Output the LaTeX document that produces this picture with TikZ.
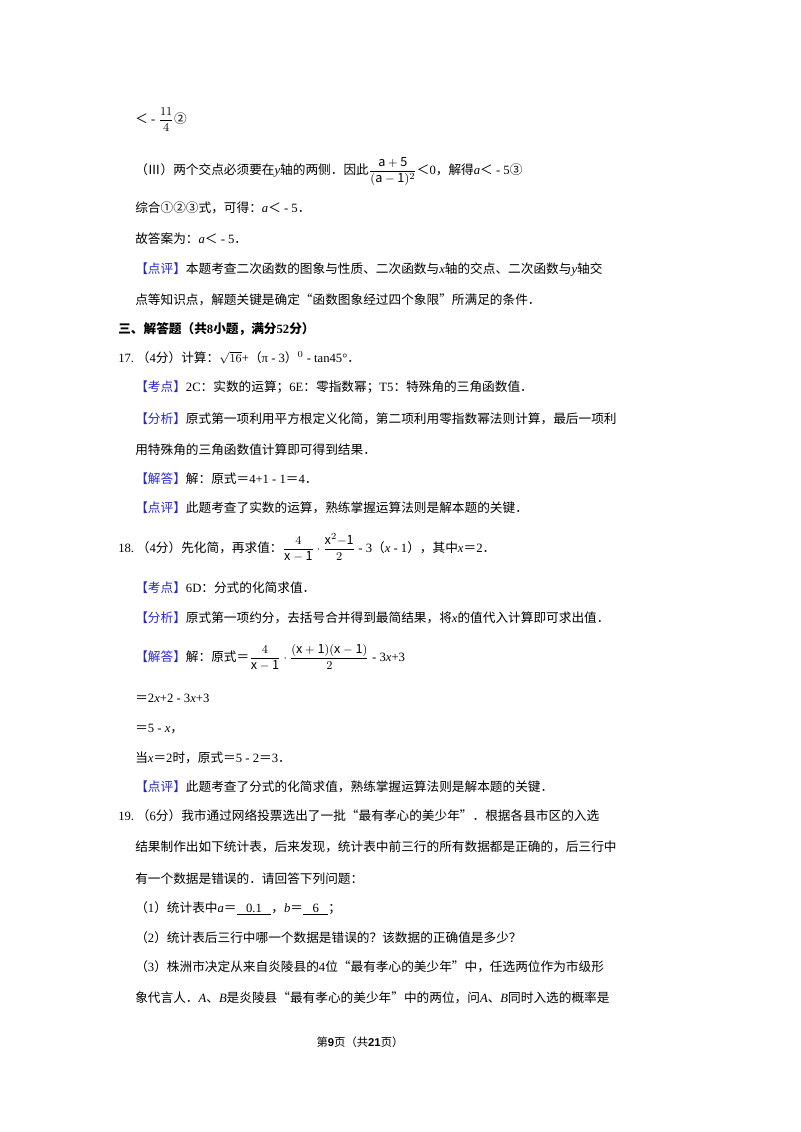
\documentclass[tikz,border=0pt]{standalone}
\usepackage{fontspec}
\setmainfont{Noto Sans CJK SC}
\newfontfamily\lat{Liberation Serif}
\newfontfamily\lsans{Liberation Sans}
\definecolor{kb}{RGB}{40,40,210}
\newcommand\lt[1]{{\lat #1}}
\newcommand\ix[1]{{\lat\itshape #1}}
\newcommand\tag[1]{{\color{kb}【#1】}}
\begin{document}
\begin{tikzpicture}[x=0.75pt,y=-0.75pt,
  every node/.style={inner sep=0pt,anchor=base west,font=\fontsize{9.5pt}{12pt}\selectfont},
  hd/.style={font=\fontsize{9.5pt}{12pt}\selectfont\bfseries}]
\useasboundingbox[fill=white] (0,0) rectangle (800,1132);
\def\b{4.5}
\node (l1) at (135,119+\b) {＜\lt{ - }$\displaystyle\frac{11}{4}$②};
\node (l2) at (135,170+\b) {（Ⅲ）两个交点必须要在\ix{y}轴的两侧．因此$\displaystyle\frac{\mathrm{a+5}}{(\mathrm{a-1})^2}$＜\lt{0}，解得\ix{a}＜\lt{ - 5}③};
\node (l3) at (135,208+\b) {综合①②③式，可得：\ix{a}＜\lt{ - 5}．};
\node (l4) at (135,239+\b) {故答案为：\ix{a}＜\lt{ - 5}．};
\node (l5) at (135,269+\b) {\tag{点评}本题考查二次函数的图象与性质、二次函数与\ix{x}轴的交点、二次函数与\ix{y}轴交};
\node (l6) at (135,300+\b) {点等知识点，解题关键是确定“函数图象经过四个象限”所满足的条件．};
\node[hd] (l7) at (118,329+\b) {三、解答题（共\lt{\bfseries 8}小题，满分\lt{\bfseries 52}分）};
\node (l8) at (118,358+\b) {\lt{17.}\ （\lt{4}分）计算：$\sqrt{16}$\lt{+}（\lt{π - 3}）$^{0}$\lt{ - tan45°}．};
\node (l9) at (135,387+\b) {\tag{考点}\lt{2C}：实数的运算；\lt{6E}：零指数幂；\lt{T5}：特殊角的三角函数值．};
\node (l10) at (135,419+\b) {\tag{分析}原式第一项利用平方根定义化简，第二项利用零指数幂法则计算，最后一项利};
\node (l11) at (135,450+\b) {用特殊角的三角函数值计算即可得到结果．};
\node (l12) at (135,479+\b) {\tag{解答}解：原式＝\lt{4+1 - 1}＝\lt{4}．};
\node (l13) at (135,508+\b) {\tag{点评}此题考查了实数的运算，熟练掌握运算法则是解本题的关键．};
\node (l14) at (118,548+\b) {\lt{18.}\ （\lt{4}分）先化简，再求值：$\displaystyle\frac{4}{\mathrm{x-1}}\cdot\frac{\mathrm{x}^2\mathrm{-1}}{2}$\lt{ - 3}（\ix{x}\lt{ - 1}），其中\ix{x}＝\lt{2}．};
\node (l15) at (135,588+\b) {\tag{考点}\lt{6D}：分式的化简求值．};
\node (l16) at (135,618+\b) {\tag{分析}原式第一项约分，去括号合并得到最简结果，将\ix{x}的值代入计算即可求出值．};
\node (l17) at (135,657+\b) {\tag{解答}解：原式＝$\displaystyle\frac{4}{\mathrm{x-1}}\cdot\frac{(\mathrm{x+1})(\mathrm{x-1})}{2}$\lt{ - 3}\ix{x}\lt{+3}};
\node (l18) at (135,698+\b) {＝\lt{2}\ix{x}\lt{+2 - 3}\ix{x}\lt{+3}};
\node (l19) at (135,728+\b) {＝\lt{5 - }\ix{x}，};
\node (l20) at (135,758+\b) {当\ix{x}＝\lt{2}时，原式＝\lt{5 - 2}＝\lt{3}．};
\node (l21) at (135,787+\b) {\tag{点评}此题考查了分式的化简求值，熟练掌握运算法则是解本题的关键．};
\node (l22) at (118,816+\b) {\lt{19.}\ （\lt{6}分）我市通过网络投票选出了一批“最有孝心的美少年”．根据各县市区的入选};
\node (l23) at (135,847+\b) {结果制作出如下统计表，后来发现，统计表中前三行的所有数据都是正确的，后三行中};
\node (l24) at (135,879+\b) {有一个数据是错误的．请回答下列问题：};
\node (l25) at (135,908+\b) {（\lt{1}）统计表中\ix{a}＝\underline{\lt{\ \ \ 0.1\ \ \ }}，\ix{b}＝\underline{\lt{\ \ \ 6\ \ \ }}；};
\node (l26) at (135,938+\b) {（\lt{2}）统计表后三行中哪一个数据是错误的？该数据的正确值是多少？};
\node (l27) at (135,967+\b) {（\lt{3}）株洲市决定从来自炎陵县的\lt{4}位“最有孝心的美少年”中，任选两位作为市级形};
\node (l28) at (135,998+\b) {象代言人．\ix{A}、\ix{B}是炎陵县“最有孝心的美少年”中的两位，问\ix{A}、\ix{B}同时入选的概率是};
\node[anchor=base,font=\fontsize{8.5pt}{10pt}\selectfont] (ft) at (360,1042+4) {第{\lsans\bfseries 9}页（共{\lsans\bfseries 21}页）};
\end{tikzpicture}
\end{document}
